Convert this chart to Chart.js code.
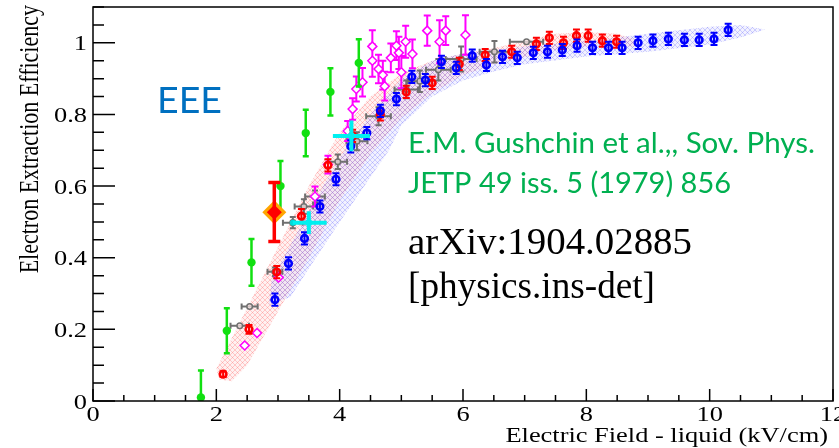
<!DOCTYPE html>
<html>
<head>
<meta charset="utf-8">
<script src="https://cdn.jsdelivr.net/npm/chart.js@4.4.0/dist/chart.umd.min.js"></script>
<style>
  html, body { margin: 0; padding: 0; background: #fff; }
  #wrap { width: 839px; height: 448px; }
</style>
</head>
<body>
<div id="wrap"><canvas id="chart" width="839" height="448"></canvas></div>
<script>
const xTicks = [0, 2, 4, 6, 8, 10, 12];
const yTicks = [0, 0.2, 0.4, 0.6, 0.8, 1];

// blue open circles
const blueX = [2.95, 3.17, 3.43, 3.68, 3.94, 4.18, 4.44, 4.66, 4.92, 5.17, 5.39, 5.65, 5.89, 6.15, 6.38, 6.64, 6.88, 7.14, 7.37, 7.61, 7.85, 8.10, 8.36, 8.58, 8.84, 9.08, 9.33, 9.59, 9.83, 10.07, 10.30];
const blueY = [0.283, 0.384, 0.454, 0.543, 0.619, 0.711, 0.748, 0.81, 0.843, 0.905, 0.896, 0.947, 0.93, 0.964, 0.938, 0.961, 0.958, 0.972, 0.975, 0.98, 0.992, 0.986, 0.986, 0.986, 1.0, 1.006, 1.011, 1.008, 1.008, 1.011, 1.036];
const blueErr = [0.017, 0.017, 0.017, 0.017, 0.017, 0.017, 0.017, 0.017, 0.017, 0.017, 0.017, 0.017, 0.017, 0.017, 0.017, 0.017, 0.017, 0.017, 0.017, 0.017, 0.017, 0.017, 0.017, 0.017, 0.017, 0.017, 0.017, 0.017, 0.017, 0.017, 0.017];

// red open circles
const redX = [2.11, 2.53, 2.98, 3.38, 3.81, 4.21, 4.66, 5.08, 5.5, 5.94, 6.36, 6.79, 7.19, 7.4, 7.63, 7.84, 8.03, 8.26, 8.49];
const redY = [0.075, 0.2, 0.36, 0.516, 0.658, 0.74, 0.80, 0.863, 0.888, 0.941, 0.966, 0.975, 0.997, 1.014, 1.0, 1.02, 1.02, 1.006, 1.003];
const redErr = [0.008, 0.012, 0.017, 0.02, 0.017, 0.017, 0.017, 0.017, 0.017, 0.017, 0.017, 0.017, 0.017, 0.017, 0.017, 0.017, 0.017, 0.017, 0.017];

// grey open circles, x and y errors
const greyX = [2.38, 2.54, 2.95, 3.24, 3.42, 3.6, 3.97, 4.28, 4.63, 5.08, 5.3, 5.6, 5.97, 6.51, 7.03];
const greyY = [0.21, 0.264, 0.361, 0.498, 0.543, 0.571, 0.668, 0.725, 0.795, 0.87, 0.893, 0.925, 0.955, 0.975, 1.003];
const greyXErr = [0.15, 0.13, 0.12, 0.16, 0.15, 0.16, 0.15, 0.17, 0.2, 0.19, 0.2, 0.2, 0.25, 0.24, 0.27];
const greyYErr = [0, 0, 0.012, 0.016, 0.02, 0.017, 0.02, 0.025, 0.025, 0.025, 0.03, 0.03, 0.035, 0.03, 0];

// magenta open diamonds
const magX = [2.46, 2.66, 3.01, 3.6, 3.81, 4.13, 4.21, 4.27, 4.37, 4.53, 4.53, 4.63, 4.7, 4.73, 4.83, 4.92, 4.96, 5.0, 5.07, 5.18, 5.42, 5.62, 5.72, 6.04];
const magY = [0.155, 0.19, 0.345, 0.571, 0.66, 0.754, 0.815, 0.871, 0.89, 0.95, 0.99, 0.927, 0.91, 0.879, 0.958, 0.992, 0.972, 0.918, 1.003, 0.969, 1.034, 1.003, 1.034, 1.022];
const magErr = [0, 0, 0, 0.028, 0.025, 0.028, 0.03, 0.035, 0.04, 0.045, 0.045, 0.04, 0.04, 0.04, 0.04, 0.04, 0.045, 0.045, 0.045, 0.04, 0.042, 0.06, 0.04, 0.055];

// green filled circles (Gushchin 1979)
const greenX = [1.75, 2.17, 2.57, 3.04, 3.45, 3.85, 4.31];
const greenY = [0.01, 0.196, 0.387, 0.6, 0.748, 0.863, 0.944];
const greenErr = [0.075, 0.063, 0.065, 0.07, 0.065, 0.066, 0.066];

// cyan crosses
const cyanX = [3.5, 4.19];
const cyanY = [0.498, 0.74];
const cyanXLo = [0.26, 0.3];
const cyanXHi = [0.29, 0.3];
const cyanYErr = [0.032, 0.043];
const cyanDotX = [3.24];
const cyanDotY = [0.498];

// big diamond
const diaX = [2.94];
const diaY = [0.527];
const diaLo = [0.082];
const diaHi = [0.083];

// hatched bands (outline: upper edge then lower edge back)
const redBandX = [2.0, 2.5, 3.0, 3.5, 4.0, 4.5, 5.0, 5.5, 6.0, 6.5, 7.0, 7.5, 8.0, 8.5, 8.8, 8.8, 8.0, 7.5, 7.0, 6.5, 6.0, 5.5, 5.0, 4.5, 4.0, 3.5, 3.0, 2.5, 2.25, 2.05];
const redBandY = [0.09, 0.26, 0.43, 0.6, 0.75, 0.85, 0.915, 0.95, 0.97, 0.985, 1.005, 1.025, 1.03, 1.025, 1.01, 0.99, 0.99, 0.98, 0.96, 0.94, 0.91, 0.86, 0.79, 0.69, 0.56, 0.40, 0.25, 0.10, 0.055, 0.06];
const blueBandX = [2.85, 2.9, 3.5, 4.0, 4.5, 5.0, 5.5, 6.0, 7.0, 8.0, 9.0, 10.0, 10.5, 10.9, 10.5, 10.0, 9.0, 8.0, 7.0, 6.5, 6.0, 5.5, 5.0, 4.8, 4.0, 3.5, 3.2];
const blueBandY = [0.27, 0.34, 0.53, 0.68, 0.8, 0.9, 0.95, 0.97, 0.99, 1.005, 1.025, 1.045, 1.05, 1.037, 1.015, 0.995, 0.975, 0.962, 0.94, 0.92, 0.895, 0.85, 0.77, 0.70, 0.50, 0.37, 0.29];

const pts = (xs, ys) => xs.map((x, i) => ({x: x, y: ys[i]}));

const canvas = document.getElementById('chart');
const baseCtx = canvas.getContext('2d');

function hatch(bg, line) {
    const c = document.createElement('canvas');
    c.width = 5; c.height = 5;
    const g = c.getContext('2d');
    g.fillStyle = bg;
    g.fillRect(0, 0, 5, 5);
    g.strokeStyle = line;
    g.lineWidth = 0.8;
    g.beginPath();
    g.moveTo(0, 5); g.lineTo(5, 0);
    g.moveTo(0, 0); g.lineTo(5, 5);
    g.stroke();
    return baseCtx.createPattern(c, 'repeat');
}

// error bars drawn just under each dataset's markers
const errorBars = {
    id: 'errorBars',
    beforeDatasetDraw(chart, args) {
        const ds = chart.data.datasets[args.index];
        if (!ds.bars) return;
        const {ctx, chartArea: a, scales: {x, y}} = chart;
        const b = ds.bars;
        ctx.save();
        ctx.beginPath();
        ctx.rect(a.left, a.top, a.right - a.left, a.bottom - a.top);
        ctx.clip();
        ctx.strokeStyle = b.color;
        ctx.lineWidth = b.width;
        ctx.beginPath();
        ds.data.forEach((p, i) => {
            const px = x.getPixelForValue(p.x), py = y.getPixelForValue(p.y);
            if (b.yLo && (b.yLo[i] || b.yHi[i])) {
                const t = y.getPixelForValue(p.y + b.yHi[i]), d = y.getPixelForValue(p.y - b.yLo[i]);
                ctx.moveTo(px, t); ctx.lineTo(px, d);
                ctx.moveTo(px - b.cap, t); ctx.lineTo(px + b.cap, t);
                ctx.moveTo(px - b.cap, d); ctx.lineTo(px + b.cap, d);
            }
            if (b.xLo && (b.xLo[i] || b.xHi[i])) {
                const l = x.getPixelForValue(p.x - b.xLo[i]), r = x.getPixelForValue(p.x + b.xHi[i]);
                ctx.moveTo(l, py); ctx.lineTo(r, py);
                ctx.moveTo(l, py - b.cap); ctx.lineTo(l, py + b.cap);
                ctx.moveTo(r, py - b.cap); ctx.lineTo(r, py + b.cap);
            }
        });
        ctx.stroke();
        ctx.restore();
    }
};

function txt(ctx, s, x, y, font, color, sx, align) {
    ctx.save();
    ctx.font = font;
    ctx.fillStyle = color;
    ctx.textAlign = align || 'left';
    ctx.textBaseline = 'alphabetic';
    ctx.translate(x, y);
    ctx.scale(sx, 1);
    ctx.fillText(s, 0, 0);
    ctx.restore();
}

function fitTxt(ctx, s, x, y, font, color, w) {
    ctx.font = font;
    txt(ctx, s, x, y, font, color, w / ctx.measureText(s).width, 'left');
}

const SERIF = '22px "Liberation Serif"';
const STRETCH = 1.2;

// ROOT style frame, inner ticks, labels and notes
const frame = {
    id: 'frame',
    afterDraw(chart) {
        const {ctx, chartArea: a, scales: {x, y}} = chart;
        ctx.save();
        ctx.strokeStyle = '#000';
        ctx.lineWidth = 1.5;
        ctx.strokeRect(a.left, a.top, a.right - a.left, a.bottom - a.top);
        ctx.beginPath();
        for (let v = 0; v <= 12; v += 0.5) {
            const px = x.getPixelForValue(v);
            const len = v % 2 === 0 ? 12 : 6;
            ctx.moveTo(px, a.bottom); ctx.lineTo(px, a.bottom - len);
        }
        for (let k = 0; k <= 22; k++) {
            const py = y.getPixelForValue(k * 0.05);
            const len = k % 4 === 0 ? 22 : 11;
            ctx.moveTo(a.left, py); ctx.lineTo(a.left + len, py);
        }
        ctx.stroke();
        ctx.restore();

        xTicks.forEach(v => txt(ctx, String(v), x.getPixelForValue(v), 421, SERIF, '#000', STRETCH, 'center'));
        yTicks.forEach(v => txt(ctx, String(v), 87, y.getPixelForValue(v) + 7.5, SERIF, '#000', STRETCH, 'right'));

        txt(ctx, 'Electric Field - liquid (kV/cm)', 828, 442, SERIF, '#000', STRETCH, 'right');

        ctx.save();
        ctx.font = SERIF;
        ctx.fillStyle = '#000';
        ctx.textAlign = 'right';
        ctx.translate(38, 5);
        ctx.scale(STRETCH, 1);
        ctx.rotate(-Math.PI / 2);
        ctx.fillText('Electron Extraction Efficiency', 0, 0);
        ctx.restore();

        fitTxt(ctx, 'EEE', 157, 113, '36px Lato', '#0070C0', 65);
        fitTxt(ctx, 'E.M. Gushchin et al.,, Sov. Phys.', 408, 153, '28px Lato', '#00B050', 407);
        fitTxt(ctx, 'JETP 49 iss. 5 (1979) 856', 408, 193, '28px Lato', '#00B050', 323);
        fitTxt(ctx, 'arXiv:1904.02885', 408, 254, '38px "Liberation Serif"', '#000', 284);
        fitTxt(ctx, '[physics.ins-det]', 408, 298, '38px "Liberation Serif"', '#000', 247);
    }
};

const datasets = [
    {   // red diamond on top
        data: pts(diaX, diaY), pointStyle: 'rectRot', pointRadius: 7.5,
        backgroundColor: '#ff0000', borderColor: '#ff0000', borderWidth: 0,
        bars: {yLo: diaLo, yHi: diaHi, color: '#ff0000', width: 3.5, cap: 6}
    },
    {
        data: pts(diaX, diaY), pointStyle: 'rectRot', pointRadius: 12,
        backgroundColor: '#ffa500', borderColor: '#ffa500', borderWidth: 0
    },
    {
        data: pts(greenX, greenY), pointStyle: 'circle', pointRadius: 4.2,
        backgroundColor: '#11e011', borderColor: '#11e011', borderWidth: 0,
        bars: {yLo: greenErr, yHi: greenErr, color: '#11e011', width: 2.5, cap: 3}
    },
    {
        data: pts(cyanX, cyanY), pointStyle: 'rect', pointRadius: 4,
        backgroundColor: '#00f0f0', borderColor: '#00f0f0', borderWidth: 0,
        bars: {xLo: cyanXLo, xHi: cyanXHi, yLo: cyanYErr, yHi: cyanYErr, color: '#00f0f0', width: 4, cap: 0}
    },
    {
        data: pts(cyanDotX, cyanDotY), pointStyle: 'circle', pointRadius: 3,
        backgroundColor: '#00d8d8', borderColor: '#00d8d8', borderWidth: 0
    },
    {
        data: pts(blueX, blueY), pointStyle: 'circle', pointRadius: 3.3,
        backgroundColor: 'rgba(0,0,0,0)', borderColor: '#0000ff', borderWidth: 2.6,
        bars: {yLo: blueErr, yHi: blueErr, color: '#0000ff', width: 2, cap: 3.5}
    },
    {
        data: pts(redX, redY), pointStyle: 'circle', pointRadius: 3.3,
        backgroundColor: 'rgba(0,0,0,0)', borderColor: '#ff0000', borderWidth: 2.6,
        bars: {yLo: redErr, yHi: redErr, color: '#ff0000', width: 2, cap: 3.5}
    },
    {
        data: pts(magX, magY), pointStyle: 'rectRot', pointRadius: 4.5,
        backgroundColor: '#ffffff', borderColor: '#ff00ff', borderWidth: 1.5,
        bars: {yLo: magErr, yHi: magErr, color: '#ff00ff', width: 2, cap: 3.5}
    },
    {
        data: pts(greyX, greyY), pointStyle: 'circle', pointRadius: 2.8,
        backgroundColor: 'rgba(255,235,235,0.7)', borderColor: '#707070', borderWidth: 1.5,
        bars: {xLo: greyXErr, xHi: greyXErr, yLo: greyYErr, yHi: greyYErr, color: '#707070', width: 2, cap: 3}
    },
    {
        type: 'line', data: pts(blueBandX, blueBandY), showLine: true, pointRadius: 0,
        borderWidth: 0, borderColor: 'rgba(0,0,0,0)', fill: 'shape', tension: 0,
        backgroundColor: hatch('rgba(130,130,255,0.10)', 'rgba(110,110,255,0.38)')
    },
    {
        type: 'line', data: pts(redBandX, redBandY), showLine: true, pointRadius: 0,
        borderWidth: 0, borderColor: 'rgba(0,0,0,0)', fill: 'shape', tension: 0,
        backgroundColor: hatch('rgba(255,140,140,0.12)', 'rgba(255,110,110,0.42)')
    }
];

new Chart(canvas, {
    type: 'scatter',
    data: {datasets: datasets},
    options: {
        responsive: false,
        animation: false,
        devicePixelRatio: 1,
        layout: {autoPadding: false, padding: {top: 7, right: 6, left: 0, bottom: 0}},
        plugins: {legend: {display: false}, tooltip: {enabled: false}},
        scales: {
            x: {
                type: 'linear', min: 0, max: 12,
                grid: {display: false}, border: {display: false},
                ticks: {display: false},
                afterFit: s => { s.height = 47; s.paddingLeft = 0; s.paddingRight = 0; }
            },
            y: {
                type: 'linear', min: 0, max: 1.1,
                grid: {display: false}, border: {display: false},
                ticks: {display: false},
                afterFit: s => { s.width = 93; s.paddingTop = 0; s.paddingBottom = 0; }
            }
        }
    },
    plugins: [errorBars, frame]
});
</script>
</body>
</html>
